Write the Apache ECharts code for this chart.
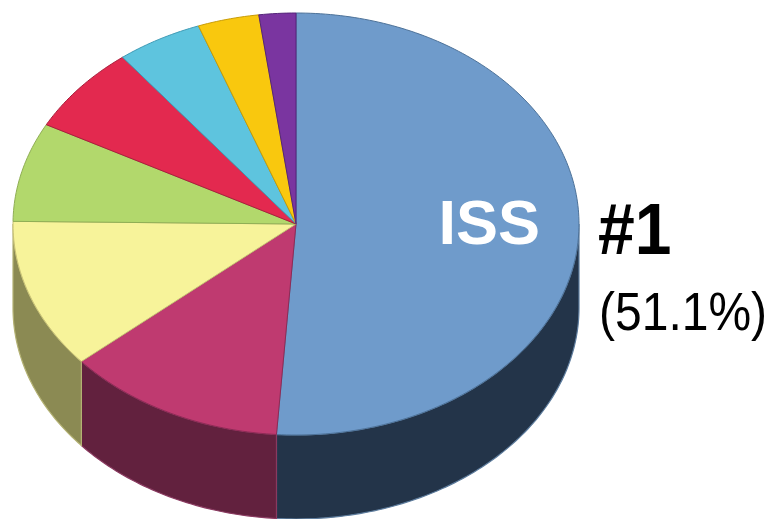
<!DOCTYPE html>
<html><head><meta charset="utf-8">
<script src="https://cdn.jsdelivr.net/npm/echarts@6/dist/echarts.min.js"></script>
<style>html,body{margin:0;padding:0;background:#fff}#c{width:768px;height:519px}</style>
</head><body><div id="c"></div>
<script>
// ---- data ----
const categories = ['ISS', 'Category 2', 'Category 3', 'Category 4', 'Category 5', 'Category 6', 'Category 7', 'Category 8'];
const shares = [51.1, 12.6, 11.5, 7.6, 6.7, 4.9, 3.5, 2.1];
const rankLabel = '#1';
const pctLabel = '(51.1%)';

// ---- styles ----
const topColors  = ['#6f9bcb', '#bf3a70', '#f7f39a', '#b2d86c', '#e3294f', '#5ec4de', '#f9c80e', '#7a35a0'];
const topEdges   = ['#4d7299', '#8f2a56', '#c9c274', '#8fae55', '#a91f3c', '#3f9bb6', '#c99c05', '#55257a'];
const sideColors = ['#233449', '#62213e', '#8b8a53', '#5f7538', '#7a1428', '#2e6a7a', '#8a6e06', '#3f1b55'];
const sideEdges  = ['#5d7c9d', '#8a3a60', '#b4b274', '#8fae55', '#a91f3c', '#3f9bb6', '#c99c05', '#55257a'];

const total = shares.reduce((a, b) => a + b, 0);
const starts = [];
{ let acc = 0; shares.forEach(v => { starts.push(acc / total * 360); acc += v; }); }

const G = { cx: 296, cy: 224, rx: 283, ry: 211, depth: 84 };
function P(theta, dy) {
  const r = theta * Math.PI / 180;
  return [G.cx + G.rx * Math.sin(r), G.cy - G.ry * Math.cos(r) + dy];
}
function arc(a1, a2, dy) {
  const pts = [];
  const n = Math.max(2, Math.ceil(Math.abs(a2 - a1)));
  for (let k = 0; k <= n; k++) pts.push(P(a1 + (a2 - a1) * k / n, dy));
  return pts;
}

function renderSide(params, api) {
  const i = params.dataIndex;
  const v = api.value(0);
  const a1 = starts[i], a2 = a1 + v / total * 360;
  const s = Math.max(a1, 90), e = Math.min(a2, 270);
  if (e <= s) return null;
  const pts = arc(s, e, 0).concat(arc(e, s, G.depth));
  return {
    type: 'polygon',
    shape: { points: pts },
    style: { fill: sideColors[i], stroke: sideEdges[i], lineWidth: 1.2 }
  };
}

function renderTop(params, api) {
  const i = params.dataIndex;
  const v = api.value(0);
  const a1 = starts[i], a2 = a1 + v / total * 360;
  const pts = [[G.cx, G.cy]].concat(arc(a1, a2, 0));
  const children = [{
    type: 'polygon',
    shape: { points: pts },
    style: { fill: topColors[i], stroke: topEdges[i], lineWidth: 1 }
  }];
  if (i === 0) {
    const mid = (a1 + a2) / 2;
    const r = mid * Math.PI / 180;
    const lx = G.cx + G.rx * 0.68 * Math.sin(r);
    const ly = G.cy - G.ry * 0.68 * Math.cos(r);
    children.push({
      type: 'text', x: lx + 1, y: ly - 2,
      style: { text: categories[i], fill: '#ffffff', font: 'bold 63px "Liberation Sans", Arial, sans-serif', align: 'center', verticalAlign: 'middle' }
    });
    children.push({
      type: 'text', x: 598, y: ly + 5, scaleY: 1.1,
      style: { text: rankLabel, fill: '#000000', font: 'bold 66px "Liberation Sans", Arial, sans-serif', align: 'left', verticalAlign: 'middle' }
    });
    children.push({
      type: 'text', x: 599, y: ly + 86, scaleY: 1.12,
      style: { text: pctLabel, fill: '#000000', font: '48px "Liberation Sans", Arial, sans-serif', align: 'left', verticalAlign: 'middle' }
    });
  }
  return { type: 'group', children };
}

const data = shares.map((v, i) => ({ name: categories[i], value: v }));
const chart = echarts.init(document.getElementById('c'), null, { renderer: 'canvas' });
chart.setOption({
  animation: false,
  backgroundColor: '#ffffff',
  series: [
    { type: 'custom', coordinateSystem: 'none', renderItem: renderSide, data: data, z: 1, silent: true },
    { type: 'custom', coordinateSystem: 'none', renderItem: renderTop, data: data, z: 2, silent: true }
  ]
});
</script>
</body></html>
